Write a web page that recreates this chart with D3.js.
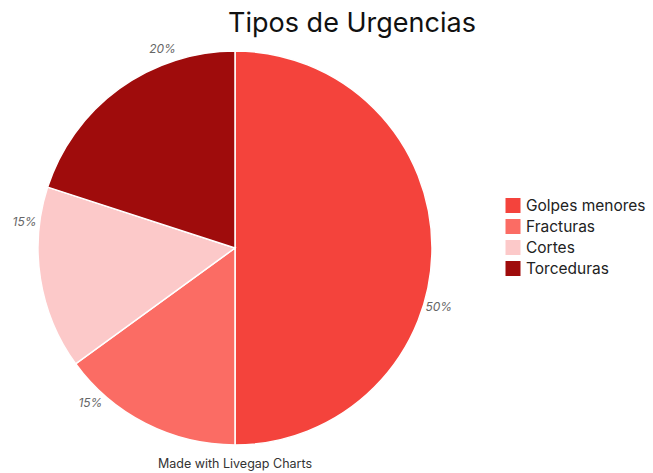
<html>
<head>
<script src="https://cdn.jsdelivr.net/npm/d3@7"></script>
<style>
  body { margin: 0; background: #fff; }
  text { font-family: Inter, "Noto Sans", sans-serif; }
</style>
</head>
<body>
<svg id="chart" width="653" height="473"></svg>
<script>
  const categories = ["Golpes menores", "Fracturas", "Cortes", "Torceduras"]
  const values = [50, 15, 15, 20]
  const labels = ["50%", "15%", "15%", "20%"]
  const colors = ["#f4433c", "#fb6c64", "#fcc9c9", "#9f0c0c"]

  const svg = d3.select("#chart")
  const cx = 235, cy = 248, radius = 197
  const labelRadius = 212
  const labelShift = 16 * Math.PI / 180

  svg.append("text")
    .attr("x", 352).attr("y", 32)
    .attr("text-anchor", "middle")
    .style("font-size", "27px")
    .style("fill", "#111")
    .text("Tipos de Urgencias")

  const pie = d3.pie().sort(null).value(d => d)
  const arcs = pie(values)
  const arc = d3.arc().innerRadius(0).outerRadius(radius)

  const g = svg.append("g").attr("transform", `translate(${cx},${cy})`)

  g.selectAll("path")
    .data(arcs)
    .enter()
    .append("path")
    .attr("d", arc)
    .style("fill", (d, i) => colors[i])
    .style("stroke", "#fff")
    .style("stroke-width", 1.5)

  g.selectAll("text.lbl")
    .data(arcs)
    .enter()
    .append("text")
    .attr("class", "lbl")
    .attr("x", d => labelRadius * Math.sin((d.startAngle + d.endAngle) / 2 + labelShift))
    .attr("y", d => -labelRadius * Math.cos((d.startAngle + d.endAngle) / 2 + labelShift))
    .attr("dy", "0.35em")
    .attr("text-anchor", "middle")
    .style("font-size", "12px")
    .style("font-style", "italic")
    .style("fill", "#666")
    .text((d, i) => labels[i])

  const legend = svg.append("g").attr("transform", "translate(505,197.5)")
  const rows = legend.selectAll("g")
    .data(categories)
    .enter()
    .append("g")
    .attr("transform", (d, i) => `translate(0,${i * 21})`)

  rows.append("rect")
    .attr("width", 16).attr("height", 16)
    .style("fill", (d, i) => colors[i])
    .style("stroke", "#fff")
    .style("stroke-width", 1)

  rows.append("text")
    .attr("x", 21).attr("y", 8)
    .attr("dy", "0.35em")
    .style("font-size", "15.5px")
    .style("fill", "#222")
    .text(d => d)

  svg.append("text")
    .attr("x", 235).attr("y", 468)
    .attr("text-anchor", "middle")
    .style("font-size", "12.5px")
    .style("fill", "#333")
    .text("Made with Livegap Charts")
</script>
</body>
</html>
